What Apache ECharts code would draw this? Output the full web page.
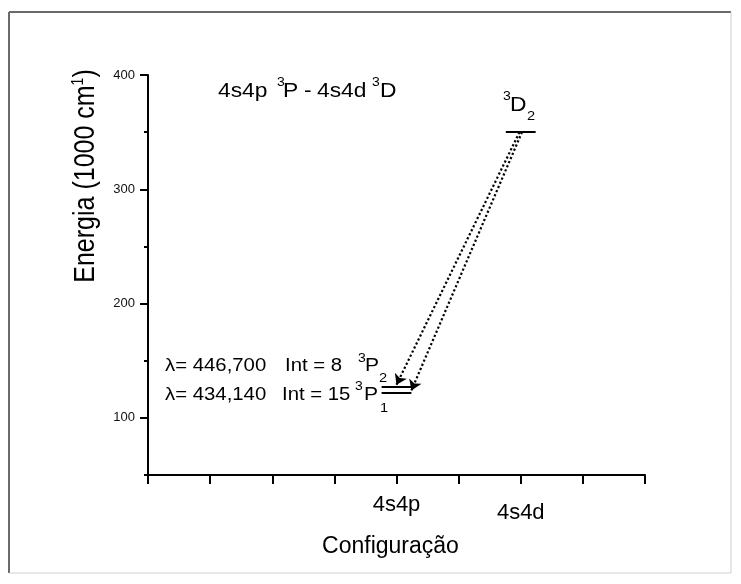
<!DOCTYPE html>
<html>
<head>
<meta charset="utf-8">
<script src="https://cdn.jsdelivr.net/npm/echarts@6/dist/echarts.min.js"></script>
<style>
  html, body { margin: 0; padding: 0; background: #fff; }
  #chart { width: 741px; height: 584px; }
</style>
</head>
<body>
<div id="chart"></div>
<script>
// Energy levels (1000 cm^-1) placed along the configuration axis
const configNames = ['4s4p', '4s4d'];
const configPos = [4, 6];
const levelTerm = ['P', 'P', 'D'];
const levelJ = ['2', '1', '2'];
const levelConfig = [4, 4, 6];
const levelEnergy = [127, 122, 350];

// Transitions: upper level index -> lower level index
const transUpper = [2, 2];
const transLower = [0, 1];
const transWavelength = ['446,700', '434,140'];
const transIntensity = [8, 15];

// Axis ticks
const yMajorTicks = [100, 200, 300, 400];
const yMinorTicks = [50, 150, 250, 350];

const FONT = '"Liberation Sans", Arial, sans-serif';
const WIDE = 1.17;                // annotation text is set slightly expanded
const WIDE_ROW = 1.13;            // expansion used for the transition rows
const LEVEL_HALF = 0.24;          // half width of a level bar (axis units)
const startShift = [-0.02, 0.02]; // spread of the arrow tails on the upper level
const endShift = [0, LEVEL_HALF]; // where each arrow lands on its lower level
const tipPad = 2;                 // arrow tips stop just above the bar

const levelBars = levelEnergy.map((e, i) => ({
  coords: [[levelConfig[i] - LEVEL_HALF, e], [levelConfig[i] + LEVEL_HALF, e]]
}));

const arrows = transUpper.map((u, k) => {
  const l = transLower[k];
  return {
    coords: [
      [levelConfig[u] + startShift[k], levelEnergy[u]],
      [levelConfig[l] + endShift[k], levelEnergy[l] + tipPad]
    ]
  };
});

// left-aligned, vertically centred annotation text
function txt(text, x, y, size, sx) {
  return {
    type: 'text', x: x, y: y, scaleX: sx || WIDE, silent: true,
    style: {
      text: text, fontSize: size, fontFamily: FONT, fill: '#000',
      align: 'left', verticalAlign: 'middle'
    }
  };
}

const graphics = [
  // page frame
  { type: 'line', silent: true, shape: { x1: 9, y1: 12, x2: 731, y2: 12 }, style: { stroke: '#6a6a6a', lineWidth: 2 } },
  { type: 'line', silent: true, shape: { x1: 9, y1: 12, x2: 9, y2: 573 }, style: { stroke: '#6a6a6a', lineWidth: 2 } },
  { type: 'line', silent: true, shape: { x1: 731, y1: 12, x2: 731, y2: 573 }, style: { stroke: '#cfcfcf', lineWidth: 1 } },
  { type: 'line', silent: true, shape: { x1: 9, y1: 573, x2: 731, y2: 573 }, style: { stroke: '#cfcfcf', lineWidth: 1 } },

  // y axis title
  {
    type: 'text', x: 86, y: 176, rotation: Math.PI / 2, scaleY: WIDE, silent: true,
    style: {
      text: '{n|Energia (1000 cm}{s|1}{n|)}',
      align: 'center', verticalAlign: 'middle',
      rich: {
        n: { fontSize: 25, fontFamily: FONT, fill: '#000' },
        s: { fontSize: 14, fontFamily: FONT, fill: '#000', verticalAlign: 'top', padding: [0, 0, 12, 0] }
      }
    }
  },

  // transition title
  txt('4s4p', 218, 92, 19.5),
  txt('3', 277, 82.5, 12),
  txt('P', 283, 92, 19.5),
  txt('-', 304, 92, 19.5),
  txt('4s4d', 317, 92, 19.5),
  txt('3', 372, 82.5, 12),
  txt('D', 380, 92, 19.5),

  // upper level label
  txt('3', 503, 96.5, 12),
  txt(levelTerm[2], 510, 105.5, 19.5),
  txt(levelJ[2], 527, 116.5, 12.5),

  // transition rows
  txt('λ= ' + transWavelength[0], 165, 366.5, 18, WIDE_ROW),
  txt('Int = ' + transIntensity[0], 285, 366.5, 18, WIDE_ROW),
  txt('3', 358, 358.5, 12),
  txt(levelTerm[0], 365, 366.5, 18),
  txt(levelJ[0], 379, 379, 12.5),

  txt('λ= ' + transWavelength[1], 165, 395, 18, WIDE_ROW),
  txt('Int = ' + transIntensity[1], 282, 395, 18, WIDE_ROW),
  txt('3', 355, 386.5, 12),
  txt(levelTerm[1], 364, 395, 18),
  txt(levelJ[1], 380, 409, 12.5)
];

const chart = echarts.init(document.getElementById('chart'), null, { renderer: 'canvas' });

chart.setOption({
  animation: false,
  backgroundColor: '#fff',
  grid: { left: 148, right: 96, top: 75, bottom: 109 },
  xAxis: {
    type: 'value', min: 0, max: 8, interval: 1,
    name: 'Configuração', nameLocation: 'middle', nameGap: 60,
    nameTextStyle: { fontSize: 23, fontFamily: FONT, color: '#000', padding: [0, 12, 0, 0] },
    axisLine: { onZero: false, lineStyle: { color: '#000', width: 2 } },
    axisTick: { length: 9, lineStyle: { color: '#000', width: 2 } },
    axisLabel: {
      customValues: configPos,
      margin: 19,
      formatter: function (v) {
        const i = configPos.indexOf(v);
        return i === 0 ? '{a|' + configNames[i] + '}' : '{b|' + configNames[i] + '}';
      },
      rich: {
        a: { fontSize: 22, fontFamily: FONT, color: '#000' },
        b: { fontSize: 22, fontFamily: FONT, color: '#000', padding: [8, 0, 0, 0] }
      }
    },
    splitLine: { show: false }
  },
  yAxis: [
    {
      type: 'value', min: 50, max: 400,
      axisLine: { show: true, onZero: false, lineStyle: { color: '#000', width: 2 } },
      axisTick: { show: true, customValues: yMajorTicks, length: 8, lineStyle: { color: '#000', width: 2 } },
      axisLabel: { customValues: yMajorTicks, margin: 13, fontSize: 13, fontFamily: FONT, color: '#111' },
      splitLine: { show: false }
    },
    {
      type: 'value', min: 50, max: 400, position: 'left',
      axisLine: { show: false },
      axisTick: { show: true, customValues: yMinorTicks, length: 4, lineStyle: { color: '#000', width: 2 } },
      axisLabel: { show: false },
      splitLine: { show: false }
    }
  ],
  series: [
    {
      name: 'levels', type: 'lines', coordinateSystem: 'cartesian2d', silent: true,
      lineStyle: { color: '#000', width: 2, opacity: 1 },
      symbol: 'none',
      data: levelBars
    },
    {
      name: 'transitions', type: 'lines', coordinateSystem: 'cartesian2d', silent: true,
      lineStyle: { color: '#000', width: 2.2, opacity: 1, type: [2.2, 2.3] },
      symbol: ['none', 'arrow'], symbolSize: [7, 10],
      data: arrows
    }
  ],
  graphic: graphics
});
</script>
</body>
</html>
